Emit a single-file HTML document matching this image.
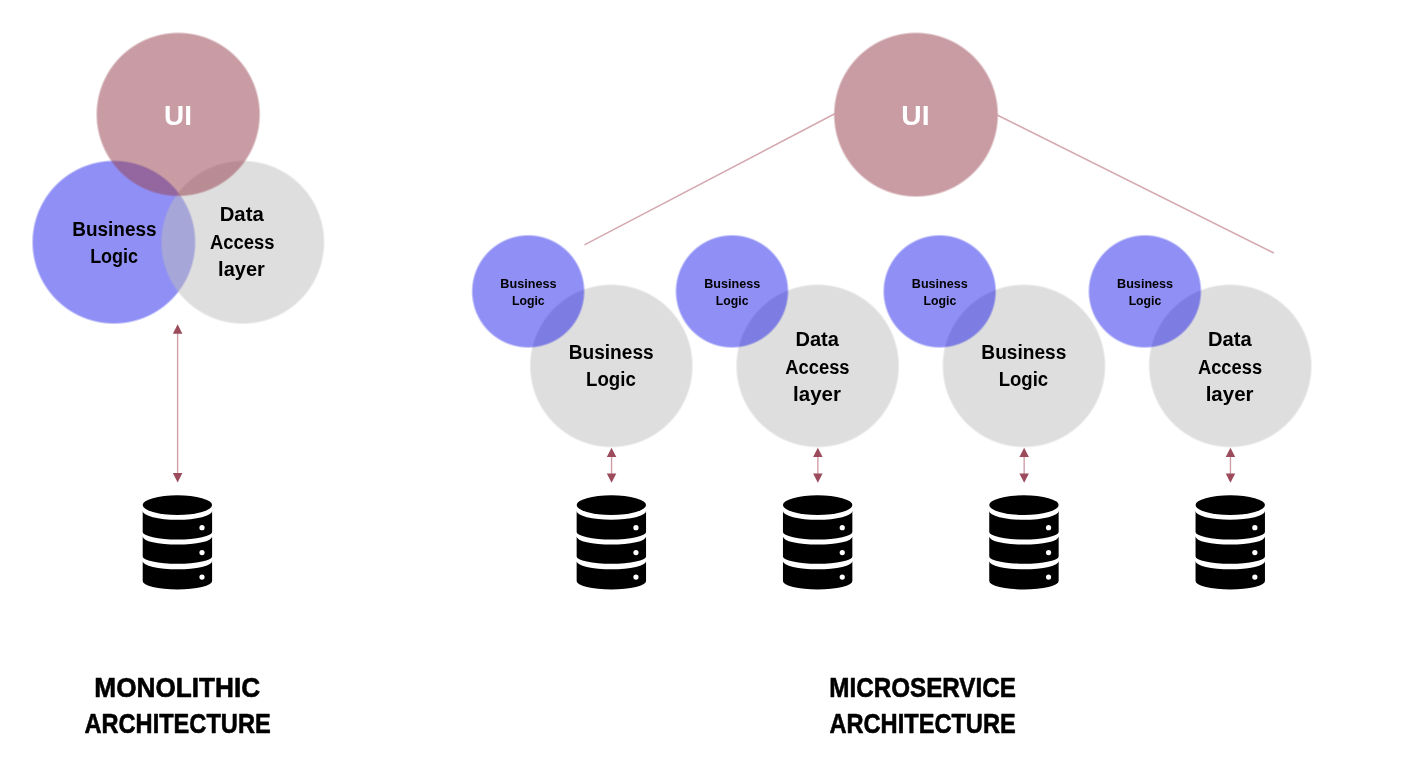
<!DOCTYPE html>
<html><head><meta charset="utf-8"><style>
html,body{margin:0;padding:0;background:#fff;width:1406px;height:776px;overflow:hidden}
svg{display:block;will-change:transform}
text{font-family:"Liberation Sans", sans-serif;font-weight:bold}
</style></head><body>
<svg width="1406" height="776" viewBox="0 0 1406 776">
<rect width="1406" height="776" fill="#fff"/>
<circle cx="113.9" cy="242.2" r="82.40" fill="url(#g1)"/>
<circle cx="242.75" cy="242.3" r="82.40" fill="url(#g2)"/>
<circle cx="178.2" cy="114.4" r="82.60" fill="url(#g3)"/>
<line x1="584.4" y1="244.9" x2="840" y2="111" stroke="#d4a8b0" stroke-width="1.5"/>
<line x1="990" y1="111.5" x2="1273.9" y2="253" stroke="#d4a8b0" stroke-width="1.5"/>
<circle cx="916" cy="114.7" r="82.90" fill="url(#g4)"/>
<circle cx="611.35" cy="365.9" r="82.20" fill="url(#g5)"/>
<circle cx="817.65" cy="365.9" r="82.20" fill="url(#g6)"/>
<circle cx="1023.95" cy="365.9" r="82.20" fill="url(#g7)"/>
<circle cx="1230.25" cy="365.9" r="82.20" fill="url(#g8)"/>
<circle cx="528.2" cy="291.4" r="57.10" fill="url(#g9)"/>
<circle cx="732.0" cy="291.4" r="57.10" fill="url(#g10)"/>
<circle cx="939.7" cy="291.4" r="57.10" fill="url(#g11)"/>
<circle cx="1144.9" cy="291.4" r="57.10" fill="url(#g12)"/>
<defs><radialGradient id="g1"><stop offset="0.9733" stop-color="#8f8ff5" stop-opacity="1.0"/><stop offset="1" stop-color="#8f8ff5" stop-opacity="0"/></radialGradient><radialGradient id="g2"><stop offset="0.9733" stop-color="#bdbdbd" stop-opacity="0.5"/><stop offset="1" stop-color="#bdbdbd" stop-opacity="0"/></radialGradient><radialGradient id="g3"><stop offset="0.9734" stop-color="#974150" stop-opacity="0.52"/><stop offset="1" stop-color="#974150" stop-opacity="0"/></radialGradient><radialGradient id="g4"><stop offset="0.9735" stop-color="#c99ca3" stop-opacity="1.0"/><stop offset="1" stop-color="#c99ca3" stop-opacity="0"/></radialGradient><radialGradient id="g5"><stop offset="0.9732" stop-color="#dedede" stop-opacity="1.0"/><stop offset="1" stop-color="#dedede" stop-opacity="0"/></radialGradient><radialGradient id="g6"><stop offset="0.9732" stop-color="#dedede" stop-opacity="1.0"/><stop offset="1" stop-color="#dedede" stop-opacity="0"/></radialGradient><radialGradient id="g7"><stop offset="0.9732" stop-color="#dedede" stop-opacity="1.0"/><stop offset="1" stop-color="#dedede" stop-opacity="0"/></radialGradient><radialGradient id="g8"><stop offset="0.9732" stop-color="#dedede" stop-opacity="1.0"/><stop offset="1" stop-color="#dedede" stop-opacity="0"/></radialGradient><radialGradient id="g9"><stop offset="0.9615" stop-color="#0000e8" stop-opacity="0.44"/><stop offset="1" stop-color="#0000e8" stop-opacity="0"/></radialGradient><radialGradient id="g10"><stop offset="0.9615" stop-color="#0000e8" stop-opacity="0.44"/><stop offset="1" stop-color="#0000e8" stop-opacity="0"/></radialGradient><radialGradient id="g11"><stop offset="0.9615" stop-color="#0000e8" stop-opacity="0.44"/><stop offset="1" stop-color="#0000e8" stop-opacity="0"/></radialGradient><radialGradient id="g12"><stop offset="0.9615" stop-color="#0000e8" stop-opacity="0.44"/><stop offset="1" stop-color="#0000e8" stop-opacity="0"/></radialGradient></defs>
<line x1="177.6" y1="332.3" x2="177.6" y2="474.4" stroke="#cf9fa9" stroke-width="1.4"/>
<path d="M177.6,324.3 L172.85,333.7 L182.35,333.7 Z" fill="#9b4b5b"/>
<path d="M177.6,482.4 L172.85,473.0 L182.35,473.0 Z" fill="#9b4b5b"/>
<ellipse cx="177.40" cy="505.10" rx="34.7" ry="9.8" fill="#000"/><path d="M142.70,511.0 A34.7,8.8 0 0 0 212.10,511.0 L212.10,532.0 A34.7,7.5 0 0 1 142.70,532.0 Z" fill="#000"/><path d="M142.70,536.6 A34.7,8.0 0 0 0 212.10,536.6 L212.10,556.4 A34.7,7.3 0 0 1 142.70,556.4 Z" fill="#000"/><path d="M142.70,561.3 A34.7,8.0 0 0 0 212.10,561.3 L212.10,581.1 A34.7,8.4 0 0 1 142.70,581.1 Z" fill="#000"/><circle cx="202.00" cy="527.7" r="2.6" fill="#fff"/><circle cx="202.00" cy="552.6" r="2.6" fill="#fff"/><circle cx="202.00" cy="577.1" r="2.6" fill="#fff"/>
<line x1="611.5500000000001" y1="455.7" x2="611.5500000000001" y2="474.8" stroke="#cf9fa9" stroke-width="1.4"/>
<path d="M611.5500000000001,447.7 L606.8000000000001,457.09999999999997 L616.3000000000001,457.09999999999997 Z" fill="#9b4b5b"/>
<path d="M611.5500000000001,482.8 L606.8000000000001,473.40000000000003 L616.3000000000001,473.40000000000003 Z" fill="#9b4b5b"/>
<ellipse cx="611.35" cy="505.10" rx="34.7" ry="9.8" fill="#000"/><path d="M576.65,511.0 A34.7,8.8 0 0 0 646.05,511.0 L646.05,532.0 A34.7,7.5 0 0 1 576.65,532.0 Z" fill="#000"/><path d="M576.65,536.6 A34.7,8.0 0 0 0 646.05,536.6 L646.05,556.4 A34.7,7.3 0 0 1 576.65,556.4 Z" fill="#000"/><path d="M576.65,561.3 A34.7,8.0 0 0 0 646.05,561.3 L646.05,581.1 A34.7,8.4 0 0 1 576.65,581.1 Z" fill="#000"/><circle cx="635.95" cy="527.7" r="2.6" fill="#fff"/><circle cx="635.95" cy="552.6" r="2.6" fill="#fff"/><circle cx="635.95" cy="577.1" r="2.6" fill="#fff"/>
<line x1="817.85" y1="455.7" x2="817.85" y2="474.8" stroke="#cf9fa9" stroke-width="1.4"/>
<path d="M817.85,447.7 L813.1,457.09999999999997 L822.6,457.09999999999997 Z" fill="#9b4b5b"/>
<path d="M817.85,482.8 L813.1,473.40000000000003 L822.6,473.40000000000003 Z" fill="#9b4b5b"/>
<ellipse cx="817.65" cy="505.10" rx="34.7" ry="9.8" fill="#000"/><path d="M782.95,511.0 A34.7,8.8 0 0 0 852.35,511.0 L852.35,532.0 A34.7,7.5 0 0 1 782.95,532.0 Z" fill="#000"/><path d="M782.95,536.6 A34.7,8.0 0 0 0 852.35,536.6 L852.35,556.4 A34.7,7.3 0 0 1 782.95,556.4 Z" fill="#000"/><path d="M782.95,561.3 A34.7,8.0 0 0 0 852.35,561.3 L852.35,581.1 A34.7,8.4 0 0 1 782.95,581.1 Z" fill="#000"/><circle cx="842.25" cy="527.7" r="2.6" fill="#fff"/><circle cx="842.25" cy="552.6" r="2.6" fill="#fff"/><circle cx="842.25" cy="577.1" r="2.6" fill="#fff"/>
<line x1="1024.15" y1="455.7" x2="1024.15" y2="474.8" stroke="#cf9fa9" stroke-width="1.4"/>
<path d="M1024.15,447.7 L1019.4000000000001,457.09999999999997 L1028.9,457.09999999999997 Z" fill="#9b4b5b"/>
<path d="M1024.15,482.8 L1019.4000000000001,473.40000000000003 L1028.9,473.40000000000003 Z" fill="#9b4b5b"/>
<ellipse cx="1023.95" cy="505.10" rx="34.7" ry="9.8" fill="#000"/><path d="M989.25,511.0 A34.7,8.8 0 0 0 1058.65,511.0 L1058.65,532.0 A34.7,7.5 0 0 1 989.25,532.0 Z" fill="#000"/><path d="M989.25,536.6 A34.7,8.0 0 0 0 1058.65,536.6 L1058.65,556.4 A34.7,7.3 0 0 1 989.25,556.4 Z" fill="#000"/><path d="M989.25,561.3 A34.7,8.0 0 0 0 1058.65,561.3 L1058.65,581.1 A34.7,8.4 0 0 1 989.25,581.1 Z" fill="#000"/><circle cx="1048.55" cy="527.7" r="2.6" fill="#fff"/><circle cx="1048.55" cy="552.6" r="2.6" fill="#fff"/><circle cx="1048.55" cy="577.1" r="2.6" fill="#fff"/>
<line x1="1230.45" y1="455.7" x2="1230.45" y2="474.8" stroke="#cf9fa9" stroke-width="1.4"/>
<path d="M1230.45,447.7 L1225.7,457.09999999999997 L1235.2,457.09999999999997 Z" fill="#9b4b5b"/>
<path d="M1230.45,482.8 L1225.7,473.40000000000003 L1235.2,473.40000000000003 Z" fill="#9b4b5b"/>
<ellipse cx="1230.25" cy="505.10" rx="34.7" ry="9.8" fill="#000"/><path d="M1195.55,511.0 A34.7,8.8 0 0 0 1264.95,511.0 L1264.95,532.0 A34.7,7.5 0 0 1 1195.55,532.0 Z" fill="#000"/><path d="M1195.55,536.6 A34.7,8.0 0 0 0 1264.95,536.6 L1264.95,556.4 A34.7,7.3 0 0 1 1195.55,556.4 Z" fill="#000"/><path d="M1195.55,561.3 A34.7,8.0 0 0 0 1264.95,561.3 L1264.95,581.1 A34.7,8.4 0 0 1 1195.55,581.1 Z" fill="#000"/><circle cx="1254.85" cy="527.7" r="2.6" fill="#fff"/><circle cx="1254.85" cy="552.6" r="2.6" fill="#fff"/><circle cx="1254.85" cy="577.1" r="2.6" fill="#fff"/>
<text x="178.05" y="125.0" font-size="27.3" fill="#fff" text-anchor="middle" textLength="27.89" lengthAdjust="spacingAndGlyphs">UI</text>
<text x="114.38" y="235.9" font-size="20.9" fill="#000" text-anchor="middle" textLength="84.35" lengthAdjust="spacingAndGlyphs">Business</text>
<text x="114.13" y="263.4" font-size="20.9" fill="#000" text-anchor="middle" textLength="47.98" lengthAdjust="spacingAndGlyphs">Logic</text>
<text x="241.72" y="221.4" font-size="20.9" fill="#000" text-anchor="middle" textLength="44.11" lengthAdjust="spacingAndGlyphs">Data</text>
<text x="242.16" y="249.0" font-size="20.9" fill="#000" text-anchor="middle" textLength="64.47" lengthAdjust="spacingAndGlyphs">Access</text>
<text x="241.45" y="276.4" font-size="20.9" fill="#000" text-anchor="middle" textLength="46.70" lengthAdjust="spacingAndGlyphs">layer</text>
<text x="177.28" y="697.2" font-size="28.0" fill="#000" stroke="#000" stroke-width="0.6" stroke-linejoin="round" text-anchor="middle" textLength="165.91" lengthAdjust="spacingAndGlyphs">MONOLITHIC</text>
<text x="177.57" y="732.8" font-size="28.0" fill="#000" stroke="#000" stroke-width="0.6" stroke-linejoin="round" text-anchor="middle" textLength="186.26" lengthAdjust="spacingAndGlyphs">ARCHITECTURE</text>
<text x="915.38" y="125.0" font-size="27.3" fill="#fff" text-anchor="middle" textLength="28.19" lengthAdjust="spacingAndGlyphs">UI</text>
<text x="528.39" y="287.8" font-size="13.4" fill="#000" text-anchor="middle" textLength="56.12" lengthAdjust="spacingAndGlyphs">Business</text>
<text x="528.32" y="304.7" font-size="13.4" fill="#000" text-anchor="middle" textLength="32.77" lengthAdjust="spacingAndGlyphs">Logic</text>
<text x="611.17" y="359.0" font-size="20.9" fill="#000" text-anchor="middle" textLength="85.00" lengthAdjust="spacingAndGlyphs">Business</text>
<text x="610.96" y="386.3" font-size="20.9" fill="#000" text-anchor="middle" textLength="49.72" lengthAdjust="spacingAndGlyphs">Logic</text>
<text x="732.21" y="287.8" font-size="13.4" fill="#000" text-anchor="middle" textLength="55.97" lengthAdjust="spacingAndGlyphs">Business</text>
<text x="732.17" y="304.7" font-size="13.4" fill="#000" text-anchor="middle" textLength="32.66" lengthAdjust="spacingAndGlyphs">Logic</text>
<text x="817.22" y="345.6" font-size="20.9" fill="#000" text-anchor="middle" textLength="43.52" lengthAdjust="spacingAndGlyphs">Data</text>
<text x="817.42" y="373.5" font-size="20.9" fill="#000" text-anchor="middle" textLength="64.29" lengthAdjust="spacingAndGlyphs">Access</text>
<text x="817.06" y="400.7" font-size="20.9" fill="#000" text-anchor="middle" textLength="47.90" lengthAdjust="spacingAndGlyphs">layer</text>
<text x="939.82" y="287.8" font-size="13.4" fill="#000" text-anchor="middle" textLength="56.02" lengthAdjust="spacingAndGlyphs">Business</text>
<text x="939.97" y="304.7" font-size="13.4" fill="#000" text-anchor="middle" textLength="32.89" lengthAdjust="spacingAndGlyphs">Logic</text>
<text x="1023.82" y="359.0" font-size="20.9" fill="#000" text-anchor="middle" textLength="84.98" lengthAdjust="spacingAndGlyphs">Business</text>
<text x="1023.42" y="386.3" font-size="20.9" fill="#000" text-anchor="middle" textLength="49.58" lengthAdjust="spacingAndGlyphs">Logic</text>
<text x="1145.11" y="287.8" font-size="13.4" fill="#000" text-anchor="middle" textLength="56.08" lengthAdjust="spacingAndGlyphs">Business</text>
<text x="1144.95" y="304.7" font-size="13.4" fill="#000" text-anchor="middle" textLength="32.64" lengthAdjust="spacingAndGlyphs">Logic</text>
<text x="1229.87" y="345.6" font-size="20.9" fill="#000" text-anchor="middle" textLength="43.72" lengthAdjust="spacingAndGlyphs">Data</text>
<text x="1230.01" y="373.5" font-size="20.9" fill="#000" text-anchor="middle" textLength="64.19" lengthAdjust="spacingAndGlyphs">Access</text>
<text x="1229.59" y="400.7" font-size="20.9" fill="#000" text-anchor="middle" textLength="47.91" lengthAdjust="spacingAndGlyphs">layer</text>
<text x="922.59" y="697.2" font-size="28.0" fill="#000" stroke="#000" stroke-width="0.6" stroke-linejoin="round" text-anchor="middle" textLength="186.57" lengthAdjust="spacingAndGlyphs">MICROSERVICE</text>
<text x="922.59" y="732.8" font-size="28.0" fill="#000" stroke="#000" stroke-width="0.6" stroke-linejoin="round" text-anchor="middle" textLength="186.28" lengthAdjust="spacingAndGlyphs">ARCHITECTURE</text>
</svg>
</body></html>
